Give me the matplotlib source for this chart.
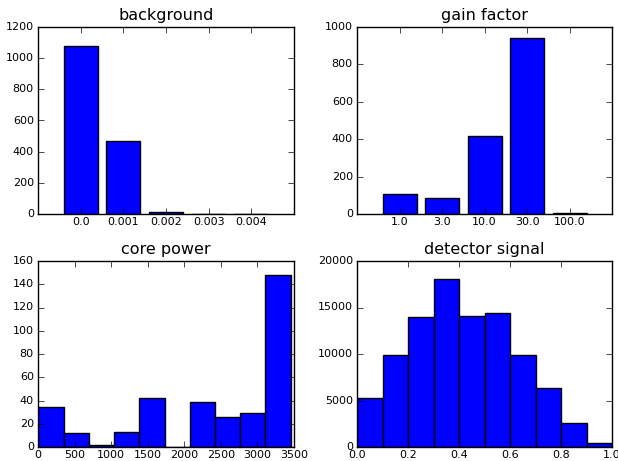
import numpy as np
import matplotlib
matplotlib.use("Agg")
import matplotlib.pyplot as plt

# background: counts per category
bg_labels = ["0.0", "0.001", "0.002", "0.003", "0.004"]
bg_counts = [1075, 468, 10, 2, 1]

# gain factor: counts per category
gain_labels = ["1.0", "3.0", "10.0", "30.0", "100.0"]
gain_counts = [105, 88, 415, 940, 3]

# core power: histogram, 10 bins
core_edges = [5, 350, 695, 1040, 1385, 1730, 2075, 2420, 2765, 3110, 3455]
core_counts = [34, 12, 2, 13, 42, 0, 39, 26, 29, 148]

# detector signal: histogram, 10 bins
det_edges = [0.0, 0.1, 0.2, 0.3, 0.4, 0.5, 0.6, 0.7, 0.8, 0.9, 1.0]
det_counts = [5300, 9850, 14000, 18100, 14050, 14400, 9850, 6300, 2550, 450]

plt.style.use("classic")
plt.rcParams["figure.facecolor"] = "white"
plt.rcParams["xtick.labelsize"] = 8
plt.rcParams["ytick.labelsize"] = 8
plt.rcParams["xtick.major.pad"] = 2
plt.rcParams["ytick.major.pad"] = 3
plt.rcParams["axes.titlesize"] = 11.5

fig = plt.figure(figsize=(6.18, 4.61), dpi=100)
W, H = 618.0, 461.0


def make_axes(x0, x1, y0, y1):
    return fig.add_axes([x0 / W, 1 - y1 / H, (x1 - x0) / W, (y1 - y0) / H])


ax1 = make_axes(38, 294, 27, 214)
ax2 = make_axes(357, 612, 27, 214)
ax3 = make_axes(38, 294, 261, 447)
ax4 = make_axes(357, 612, 261, 447)


def cat_bars(ax, labels, counts, title, ymax):
    pos = np.arange(len(labels))
    ax.bar(pos, counts, width=0.8, align="center", color="b", edgecolor="k")
    ax.set_xticks(pos)
    ax.set_xticklabels(labels)
    ax.set_xlim(-1, len(labels))
    ax.set_ylim(0, ymax)
    ax.set_title(title)


cat_bars(ax1, bg_labels, bg_counts, "background", 1200)
cat_bars(ax2, gain_labels, gain_counts, "gain factor", 1000)

# histograms from binned counts
ax3.bar(core_edges[:-1], core_counts, width=np.diff(core_edges), align="edge",
        color="b", edgecolor="k")
ax3.set_xlim(0, 3500)
ax3.set_ylim(0, 160)
ax3.set_title("core power")

ax4.bar(det_edges[:-1], det_counts, width=np.diff(det_edges), align="edge",
        color="b", edgecolor="k")
ax4.set_xlim(0, 1.0)
ax4.set_ylim(0, 20000)
ax4.set_title("detector signal")

fig.savefig("out.png", dpi=100)
